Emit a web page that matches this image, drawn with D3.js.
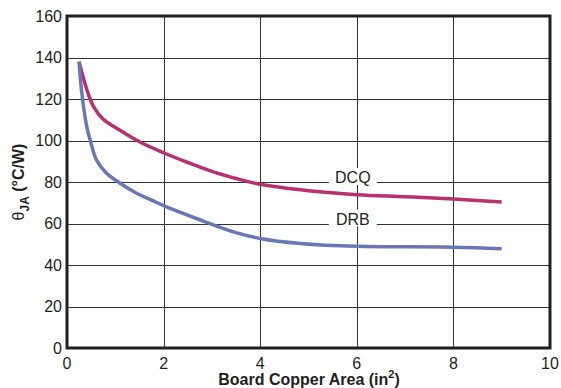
<!DOCTYPE html>
<html>
<head>
<meta charset="utf-8">
<script src="https://cdn.jsdelivr.net/npm/d3@7"></script>
<style>
  body { margin: 0; background: #fff; }
  text { font-family: "Liberation Sans", Arial, sans-serif; fill: #231f20; }
</style>
</head>
<body>
<svg width="561" height="388"></svg>
<script>
// curve data
var dcqX = [0.25, 0.41, 0.55, 0.75, 1.03, 1.5, 2.0, 2.5, 3.0, 3.5, 4.0, 5.0, 6.0, 7.0, 8.0, 9.0];
var dcqY = [138, 124.6, 116.3, 110.2, 105.9, 99.4, 94.1, 89.4, 85.1, 81.7, 78.9, 75.8, 73.9, 72.9, 71.8, 70.4];
var drbX = [0.25, 0.30, 0.41, 0.48, 0.61, 0.82, 1.1, 1.44, 1.75, 2.0, 2.75, 3.5, 4.0, 4.83, 6.0, 8.0, 9.0];
var drbY = [138, 124.3, 106.6, 100.2, 90.6, 84.2, 79.4, 74.6, 71.3, 68.6, 61.8, 55.6, 52.8, 50.4, 49.0, 48.6, 47.8];
var xTicks = [0, 2, 4, 6, 8, 10];
var yTicks = [0, 20, 40, 60, 80, 100, 120, 140, 160];
var labels = [{name: "DCQ", x: 6, y: 80}, {name: "DRB", x: 6, y: 60}];

var svg = d3.select("svg");
var pLeft = 67, pTop = 16, pRight = 550, pBottom = 348;

var x = d3.scaleLinear().domain([0, 10]).range([pLeft, pRight]);
var y = d3.scaleLinear().domain([0, 160]).range([pBottom, pTop]);

// grid
var grid = svg.append("g").attr("stroke", "#333").attr("stroke-width", 1);
grid.selectAll(".h").data(yTicks.slice(1, -1)).enter().append("line")
  .attr("x1", pLeft).attr("x2", pRight)
  .attr("y1", function(d) { return Math.round(y(d)) + 0.5; })
  .attr("y2", function(d) { return Math.round(y(d)) + 0.5; });
grid.selectAll(".v").data(xTicks.slice(1, -1)).enter().append("line")
  .attr("y1", pTop).attr("y2", pBottom)
  .attr("x1", function(d) { return Math.round(x(d)) + 0.5; })
  .attr("x2", function(d) { return Math.round(x(d)) + 0.5; });

// curves
var line = d3.line().curve(d3.curveCatmullRom.alpha(0.5));
svg.append("path")
  .attr("d", line(dcqX.map(function(d, i) { return [x(d), y(dcqY[i])]; })))
  .attr("fill", "none").attr("stroke", "#b8306f").attr("stroke-width", 3.5);
svg.append("path")
  .attr("d", line(drbX.map(function(d, i) { return [x(d), y(drbY[i])]; })))
  .attr("fill", "none").attr("stroke", "#6a77b6").attr("stroke-width", 3.5);

// curve labels with white boxes
var lab = svg.selectAll(".lab").data(labels).enter().append("g");
lab.append("rect")
  .attr("x", function(d) { return x(d.x) - 28; })
  .attr("y", function(d) { return y(d.y) - 14; })
  .attr("width", 48).attr("height", 17)
  .attr("fill", "#fff");
lab.append("text")
  .attr("x", function(d) { return x(d.x) - 4; })
  .attr("y", function(d) { return y(d.y) + 1; })
  .attr("text-anchor", "middle").attr("font-size", 16)
  .text(function(d) { return d.name; });

// frame
svg.append("rect")
  .attr("x", pLeft).attr("y", pTop)
  .attr("width", pRight - pLeft).attr("height", pBottom - pTop)
  .attr("fill", "none").attr("stroke", "#231f20").attr("stroke-width", 3);

// tick labels
svg.selectAll(".xt").data(xTicks).enter().append("text")
  .attr("x", function(d) { return x(d); }).attr("y", 369)
  .attr("text-anchor", "middle").attr("font-size", 16)
  .text(function(d) { return d; });
svg.selectAll(".yt").data(yTicks).enter().append("text")
  .attr("x", 62).attr("y", function(d) { return y(d) + 5.5; })
  .attr("text-anchor", "end").attr("font-size", 16)
  .text(function(d) { return d; });

// axis titles
var xt = svg.append("text").attr("x", 309).attr("y", 385)
  .attr("text-anchor", "middle").attr("font-size", 16).attr("font-weight", "bold");
xt.append("tspan").text("Board Copper Area (in");
xt.append("tspan").attr("dy", -7).attr("font-size", 11).text("2");
xt.append("tspan").attr("dy", 7).text(")");

var yt = svg.append("text").attr("transform", "translate(24,182) rotate(-90)")
  .attr("text-anchor", "middle").attr("font-size", 16).attr("font-weight", "bold");
yt.append("tspan").attr("font-weight", "normal").text("θ");
yt.append("tspan").attr("dy", 5).attr("font-size", 12).text("JA");
yt.append("tspan").attr("dy", -5).text(" (°C/W)");
</script>
</body>
</html>
